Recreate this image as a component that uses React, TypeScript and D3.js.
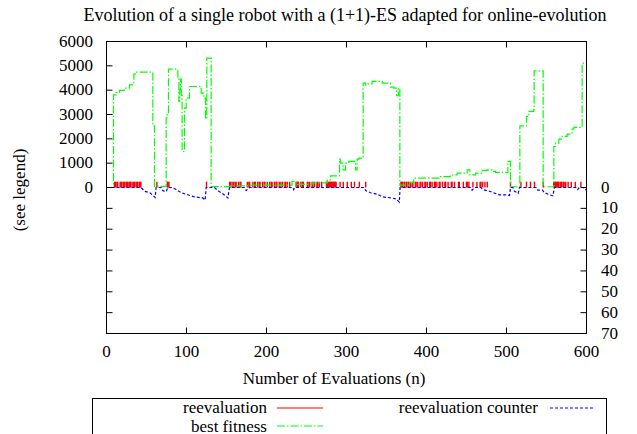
import * as d3 from "d3";

const title =
  "Evolution of a single robot with a (1+1)-ES adapted for online-evolution";
const xTitle = "Number of Evaluations (n)";
const yTitle = "(see legend)";

const xTicks = [0, 100, 200, 300, 400, 500, 600];
const yTicks = [0, 1000, 2000, 3000, 4000, 5000, 6000];
const y2Ticks = [0, 10, 20, 30, 40, 50, 60, 70];

// best fitness: [evaluation, fitness], held until the next point
const bestFitness: [number, number][] = [
  [0, 0], [8.75, 3810], [12.1, 3905], [16.25, 3990], [22.5, 4085],
  [28.75, 4220], [34.2, 4660], [37.9, 4740], [57.9, 2535], [60, 50],
  [74.6, 2860], [75.8, 2990], [77.5, 4865], [89.2, 4495], [90.5, 3535],
  [91.5, 4015], [92.5, 4450], [93.5, 3800], [94.5, 1480], [97.5, 3260],
  [99.6, 3670], [103.75, 4150], [118.3, 3880], [121.7, 3670], [123.75, 2820],
  [125.4, 5315], [130.8, 40], [155, 70], [176, 100], [232, 250],
  [238, 130], [257, 190], [276, 315], [280, 480], [291.25, 1165],
  [292.5, 1000], [295.8, 725], [298.75, 1000], [302.9, 1070], [311.25, 725],
  [313.3, 1165], [315.4, 1210], [320.8, 4290], [323.75, 4220], [325.8, 4260],
  [332.1, 4360], [344.6, 4290], [355, 4125], [359.2, 4085], [362.5, 3770],
  [365, 4085], [366.7, 100], [378, 200], [384, 385], [417.5, 450],
  [430, 520], [438.3, 590], [450.8, 725], [454.2, 520], [461.25, 590],
  [469.6, 700], [475.8, 725], [482, 660], [486.25, 620], [501.7, 1070],
  [505, 30], [516.7, 2535], [525, 2920], [528, 3125], [534, 3190],
  [534.6, 4795], [545.8, 30], [559.2, 1685], [561.25, 1825], [565.4, 1990],
  [569.6, 2100], [575.8, 2195], [582, 2400], [584.2, 2470], [594.6, 5110],
  [600, 5110],
];

// evaluations at which a reevaluation took place
const reevaluations = [
  10, 11, 13, 14, 17, 18, 19, 21, 22, 23, 25, 26, 28, 29, 30, 32, 34, 35, 37,
  38, 39, 41, 42, 43,
  63, 76, 77, 78, 125,
  154, 155, 157, 159, 161, 162, 165, 167, 168, 176, 178, 179, 183, 185, 186,
  189, 191, 192, 195, 197, 198, 201,
  204, 206, 207, 210, 212, 213, 216, 218, 220, 223, 224, 226, 229,
  237, 239, 240, 243, 245, 246, 251, 252, 254, 257, 258, 260, 263, 264, 266,
  269,
  275, 276, 277, 278, 279, 280, 281, 282, 283, 284, 285, 286, 287,
  292, 296, 301, 306, 310, 316, 324,
  368, 369, 370, 372, 373, 375, 377, 378, 380, 382, 383, 386, 387, 389, 392,
  393, 395, 398, 399, 401, 404, 405, 407, 410, 411, 413, 416, 417, 420, 423,
  424, 427, 431, 432, 435, 440, 441, 446, 450, 451, 453, 458, 463, 467, 468,
  470, 473, 476,
  505, 518, 525, 530, 535, 546,
  559, 560, 561, 562, 563, 564, 565, 567, 568, 569, 571, 572, 574, 577, 581,
  586, 593,
];
const reevaluationLevel = 240;

// reevaluation counter (right axis): [evaluation, count]
const counter: [number, number][] = [
  [0, 0], [43.3, 0], [47.5, 1.8], [53.75, 2.4], [57.9, 3.7], [60.8, 4.8],
  [62, 0], [68.3, 0], [70.4, 1.5], [74.6, 2], [76.7, 0], [82, 0], [87, 1],
  [93.3, 2.5], [101.7, 3.5], [110, 4.5], [120.4, 5], [123.3, 6], [124.6, 0],
  [135, 0], [139.2, 1.5], [145.4, 3], [151.7, 5], [153.75, 0], [172.5, 0],
  [174.6, 1.5], [178.75, 0], [233, 0], [234, 1], [235.5, 0], [322, 0],
  [324, 1.5], [330, 2.5], [339, 3.3], [345, 4.5], [356, 5], [362, 5.5],
  [366, 7], [367, 0], [455, 0], [457, 1.3], [460, 0], [468, 0], [470.4, 1],
  [478.75, 1.8], [485, 2.7], [491, 3.5], [499.6, 3.5], [503.75, 3.8],
  [505, 0], [508, 0], [510, 1.8], [514.6, 2.8], [516.25, 0], [537, 0],
  [539, 1.3], [545, 1.3], [547.5, 2.5], [553.75, 3.5], [557.9, 4], [560, 0],
  [587, 0], [589, 1], [591, 0], [596, 0], [598, 1], [600, 1],
];

const W = 637;
const H = 434;
const plot = { left: 106.5, right: 586.5, top: 41.5, bottom: 333.5 };
const font = "'Liberation Serif', 'Times New Roman', serif";
const fs = 17;
const tick = 6;

export default function App() {
  const x = d3.scaleLinear().domain([0, 600]).range([plot.left, plot.right]);
  const y = d3.scaleLinear().domain([-6000, 6000]).range([plot.bottom, plot.top]);
  const y0 = y(0);
  const y2 = d3.scaleLinear().domain([0, 70]).range([y0, plot.bottom]);

  const fitnessLine = d3
    .line<[number, number]>()
    .x((d) => x(d[0]))
    .y((d) => y(d[1]))
    .curve(d3.curveStepAfter);
  const counterLine = d3
    .line<[number, number]>()
    .x((d) => x(d[0]))
    .y((d) => y2(d[1]));

  return (
    <svg
      width={W}
      height={H}
      style={{ position: "absolute", left: 0, top: 0, background: "#fff" }}
      fontFamily={font}
      fontSize={fs}
    >
      <text x={345} y={21} textAnchor="middle" fontSize={18}>
        {title}
      </text>

      {/* data */}
      <g>
        {reevaluations.map((n, i) => (
          <line
            key={i}
            x1={x(n)}
            x2={x(n)}
            y1={y0}
            y2={y(reevaluationLevel)}
            stroke="#ff0000"
            strokeWidth={1.4}
          />
        ))}
        <path
          d={fitnessLine(bestFitness) ?? ""}
          fill="none"
          stroke="#00ff00"
          strokeWidth={1.2}
          strokeDasharray="8,2,1.5,2"
        />
        <path
          d={counterLine(counter) ?? ""}
          fill="none"
          stroke="#0000ff"
          strokeWidth={1.2}
          strokeDasharray="3,2"
        />
      </g>

      {/* frame */}
      <rect
        x={plot.left}
        y={plot.top}
        width={plot.right - plot.left}
        height={plot.bottom - plot.top}
        fill="none"
        stroke="#000"
      />

      {/* x axis */}
      {xTicks.map((t) => (
        <g key={"x" + t}>
          <line x1={x(t)} x2={x(t)} y1={plot.bottom} y2={plot.bottom - tick} stroke="#000" />
          <line x1={x(t)} x2={x(t)} y1={plot.top} y2={plot.top + tick} stroke="#000" />
          <text x={x(t)} y={357} textAnchor="middle">
            {t}
          </text>
        </g>
      ))}
      <text x={334} y={384} textAnchor="middle">
        {xTitle}
      </text>

      {/* left axis */}
      {yTicks.map((t) => (
        <g key={"y" + t}>
          <line x1={plot.left} x2={plot.left + tick} y1={y(t)} y2={y(t)} stroke="#000" />
          <text x={93} y={y(t) + 5} textAnchor="end">
            {t}
          </text>
        </g>
      ))}
      <text transform={`translate(25,190) rotate(-90)`} textAnchor="middle">
        {yTitle}
      </text>

      {/* right axis */}
      {y2Ticks.map((t) => (
        <g key={"y2" + t}>
          <line x1={plot.right} x2={plot.right - tick} y1={y2(t)} y2={y2(t)} stroke="#000" />
          <line x1={plot.left} x2={plot.left + tick} y1={y2(t)} y2={y2(t)} stroke="#000" />
          <text x={601} y={y2(t) + 5} textAnchor="start">
            {t}
          </text>
        </g>
      ))}

      {/* legend */}
      <rect x={92.5} y={398.5} width={514} height={60} fill="none" stroke="#000" />
      <text x={267} y={413} textAnchor="end">
        reevaluation
      </text>
      <line x1={277} x2={323} y1={408} y2={408} stroke="#ff0000" strokeWidth={1.2} />
      <text x={267} y={431.5} textAnchor="end">
        best fitness
      </text>
      <line
        x1={277}
        x2={323}
        y1={426}
        y2={426}
        stroke="#00ff00"
        strokeWidth={1.2}
        strokeDasharray="8,2,1.5,2"
      />
      <text x={538} y={413} textAnchor="end">
        reevaluation counter
      </text>
      <line
        x1={550}
        x2={595}
        y1={408}
        y2={408}
        stroke="#0000ff"
        strokeWidth={1.2}
        strokeDasharray="3,2"
      />
    </svg>
  );
}
